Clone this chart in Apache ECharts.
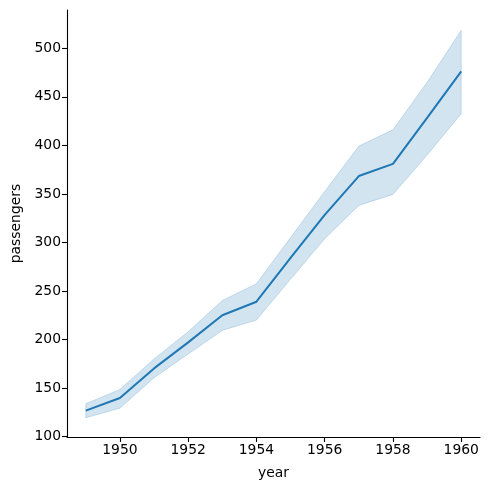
<!DOCTYPE html>
<html>
<head>
<meta charset="utf-8">
<script src="https://cdn.jsdelivr.net/npm/echarts@6/dist/echarts.min.js"></script>
<style>
  html, body { margin: 0; padding: 0; background: #fff; }
  #chart { width: 490px; height: 490px; }
</style>
</head>
<body>
<div id="chart"></div>
<script>
// flights: mean passengers per year with 95% CI band
const years = [1949, 1950, 1951, 1952, 1953, 1954, 1955, 1956, 1957, 1958, 1959, 1960]
const meanPassengers = [126.7, 139.7, 170.2, 197.0, 225.0, 238.9, 284.0, 328.3, 368.4, 381.0, 428.3, 476.2]
const ciLower = [119.3, 129.2, 160.5, 185.0, 209.3, 220.0, 262.0, 303.8, 338.1, 349.5, 390.0, 432.7]
const ciUpper = [133.7, 148.5, 180.0, 208.0, 240.2, 257.4, 305.0, 352.5, 399.3, 416.0, 465.0, 518.6]
const xTicks = [1950, 1952, 1954, 1956, 1958, 1960]
const yTicks = [100, 150, 200, 250, 300, 350, 400, 450, 500]

const chart = echarts.init(document.getElementById('chart'))
const font = 'DejaVu Sans'

chart.setOption({
  animation: false,
  grid: { left: 67, right: 10, top: 10, bottom: 53, containLabel: false, outerBoundsMode: 'none' },
  xAxis: {
    type: 'value',
    min: 1948.45,
    max: 1960.55,
    name: 'year',
    nameLocation: 'middle',
    nameGap: 29,
    nameTextStyle: { color: '#000', fontSize: 13.9, fontFamily: font },
    axisLine: { show: true, onZero: false, lineStyle: { color: '#000', width: 1.1 } },
    axisTick: { show: true, length: 5, lineStyle: { color: '#000', width: 1.1 }, customValues: xTicks },
    axisLabel: { color: '#000', fontSize: 13.9, fontFamily: font, margin: 6, customValues: xTicks, formatter: v => String(v) },
    splitLine: { show: false }
  },
  yAxis: {
    type: 'value',
    min: 99.5,
    max: 539.5,
    name: 'passengers',
    nameLocation: 'middle',
    nameGap: 44,
    nameRotate: 90,
    nameTextStyle: { color: '#000', fontSize: 13.9, fontFamily: font },
    axisLine: { show: true, onZero: false, lineStyle: { color: '#000', width: 1.1 } },
    axisTick: { show: true, length: 5, lineStyle: { color: '#000', width: 1.1 }, customValues: yTicks },
    axisLabel: { color: '#000', fontSize: 13.9, fontFamily: font, margin: 6, customValues: yTicks, formatter: v => String(v) },
    splitLine: { show: false }
  },
  series: [
    {
      name: 'ci',
      type: 'custom',
      silent: true,
      data: [0],
      renderItem: function (params, api) {
        const pts = []
        for (let i = 0; i < years.length; i++) pts.push(api.coord([years[i], ciUpper[i]]))
        for (let i = years.length - 1; i >= 0; i--) pts.push(api.coord([years[i], ciLower[i]]))
        return {
          type: 'polygon',
          shape: { points: pts },
          style: { fill: 'rgba(31,119,180,0.2)', stroke: 'rgba(31,119,180,0.2)', lineWidth: 1 }
        }
      },
      z: 1
    },
    {
      name: 'passengers',
      type: 'line',
      data: years.map((y, i) => [y, meanPassengers[i]]),
      symbol: 'none',
      lineStyle: { width: 2, color: '#1f77b4' },
      z: 5
    }
  ]
})
</script>
</body>
</html>
